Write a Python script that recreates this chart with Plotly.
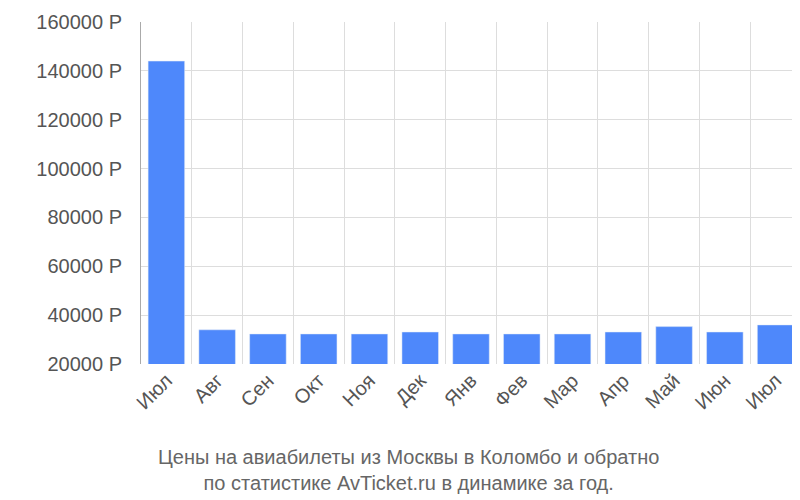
import plotly.graph_objects as go

months = ["Июл","Авг","Сен","Окт","Ноя","Дек","Янв","Фев","Мар","Апр","Май","Июн","Июл"]
prices = [144000,34000,32300,32300,32300,33100,32300,32300,32300,33100,35300,33100,36000]
ytickvals = [20000,40000,60000,80000,100000,120000,140000,160000]
yticktext = [f"{v} Р" for v in ytickvals]
title = "Цены на авиабилеты из Москвы в Коломбо и обратно<br>по статистике AvTicket.ru в динамике за год."

fig = go.Figure(go.Bar(x=list(range(len(months))), y=prices, marker_color="#4e88fb", width=0.72))
fig.update_layout(
    width=800, height=500, plot_bgcolor="white", paper_bgcolor="white",
    margin=dict(l=133, r=7, t=14, b=144, autoexpand=False),
    font=dict(family="Liberation Sans, Arial", size=20, color="#555"),
    showlegend=False,
    xaxis=dict(range=[-0.5,12.5], tickmode="array", tickvals=list(range(13)), ticktext=months,
               tickangle=-45, showgrid=False, zeroline=False, ticks="", automargin=False,
               minor=dict(tickmode="linear", tick0=0.5, dtick=1, showgrid=True, gridcolor="#ddd")),
    yaxis=dict(range=[20000,160000], tickvals=ytickvals, ticktext=yticktext, gridcolor="#ddd",
               showline=True, linecolor="#aaa", zeroline=False, ticks="", automargin=False,
               ticklabelstandoff=14),
    annotations=[dict(text=title, xref="paper", yref="paper", x=(400-133)/660, y=-0.235,
                      xanchor="center", yanchor="top", showarrow=False,
                      font=dict(size=20, color="#666"))],
)
fig.write_html("out.html")
